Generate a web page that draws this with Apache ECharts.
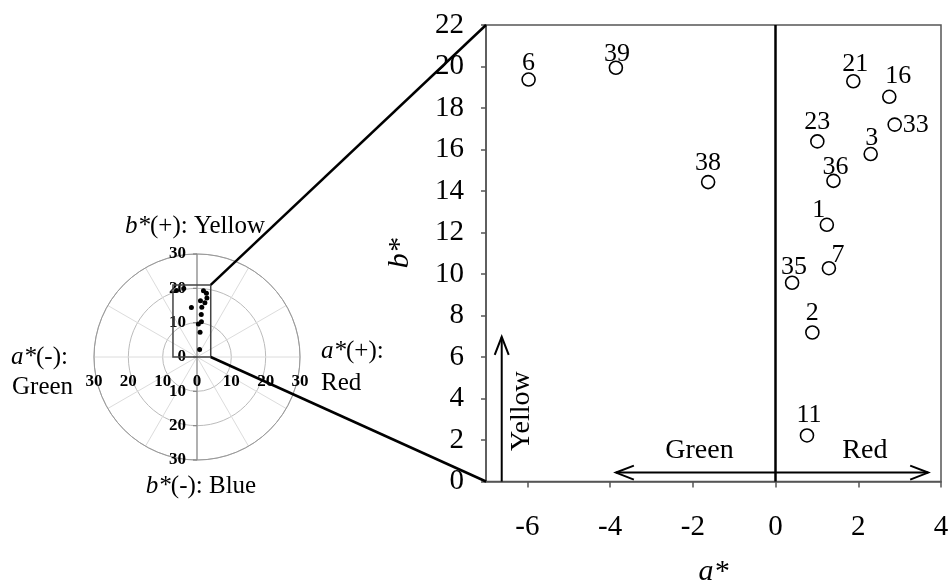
<!DOCTYPE html>
<html><head><meta charset="utf-8">
<script src="https://cdn.jsdelivr.net/npm/echarts@6/dist/echarts.min.js"></script>
<style>html,body{margin:0;padding:0;background:#fff}#c{width:948px;height:585px}</style>
</head><body><div id="c"></div>
<script>
// ---- data ----
const sampleIds = ['6','39','38','21','16','33','23','3','36','1','7','35','2','11'];
const aValues   = [-5.97,-3.86,-1.63,1.88,2.75,2.88,1.01,2.30,1.40,1.24,1.29,0.40,0.89,0.76];
const bValues   = [19.37,19.94,14.43,19.29,18.54,17.20,16.39,15.78,14.49,12.37,10.28,9.58,7.18,2.22];
const aTicks = [-6,-4,-2,0,2,4];
const bTicks = [0,2,4,6,8,10,12,14,16,18,20,22];
const aRange = [-7,4];
const bRange = [0,22];
const insetTicks = [-30,-20,-10,0,10,20,30];
const insetBox = [-7,4,0,21];          // a-min, a-max, b-min, b-max of the zoom box in the inset
const arrowSegs = [[0,0.43,-3.86,0.43],[0,0.43,3.69,0.43],[-6.62,0,-6.62,6.97]];
const arrowTexts = ['Green','Red','Yellow'];
const arrowTextPos = [[-1.84,1.47],[2.16,1.47],[-6.15,3.39]];

// ---- label placement (style only) ----
const labelOffsets = {
  '6':[0,-16],'39':[1,-14],'38':[0,-19],'21':[2,-17],'16':[9,-21],'33':[21,1],
  '23':[0,-19],'3':[1,-16],'36':[2,-14],'1':[-8,-15],'7':[9,-13],'35':[2,-16],
  '2':[0,-19],'11':[2,-20]
};
const SERIF = '"Liberation Serif","DejaVu Serif",serif';

const mainData = sampleIds.map((id,i)=>({
  value:[aValues[i], bValues[i]], name:id,
  label:{offset: labelOffsets[id]}
}));
const insetData = sampleIds.map((id,i)=>[aValues[i], bValues[i]]);

const chart = echarts.init(document.getElementById('c'), null, {renderer:'canvas'});

const option = {
  animation:false,
  backgroundColor:'#fff',
  grid:[
    {left:486, right:7, top:25, bottom:103.5, show:true, borderColor:'#555', borderWidth:1.5,
     containLabel:false, outerBoundsMode:'none'},
    {left:94, top:254, width:206, height:206, show:false, containLabel:false, outerBoundsMode:'none'}
  ],
  polar:{center:[197,357], radius:103},
  angleAxis:{type:'value', min:0, max:360, interval:30, startAngle:90,
    axisLine:{show:true, lineStyle:{color:'#999', width:1}},
    axisTick:{show:false}, axisLabel:{show:false},
    splitLine:{show:true, lineStyle:{color:'#dcdcdc', width:1}}},
  radiusAxis:{type:'value', min:0, max:30, interval:10,
    axisLine:{show:false}, axisTick:{show:false}, axisLabel:{show:false},
    splitLine:{show:true, lineStyle:{color:'#bbb', width:1}}},
  xAxis:[
    {gridIndex:0, type:'value', min:aRange[0], max:aRange[1],
     name:'a*', nameLocation:'middle', nameGap:76,
     nameTextStyle:{fontFamily:SERIF, fontSize:30, fontStyle:'italic', color:'#000'},
     axisLine:{show:true, onZero:false, lineStyle:{color:'#555', width:1.5}},
     axisTick:{show:true, customValues:aTicks, length:6, lineStyle:{color:'#555', width:1.5}},
     axisLabel:{customValues:aTicks, fontFamily:SERIF, fontSize:29, color:'#000', margin:31},
     splitLine:{show:false}},
    {gridIndex:1, type:'value', min:-30, max:30, interval:10,
     axisLine:{show:false}, axisTick:{show:false}, axisLabel:{show:false}, splitLine:{show:false}}
  ],
  yAxis:[
    {gridIndex:0, type:'value', min:bRange[0], max:bRange[1], interval:2,
     name:'b*', nameLocation:'middle', nameGap:71, nameRotate:90,
     nameTextStyle:{fontFamily:SERIF, fontSize:30, fontStyle:'italic', color:'#000'},
     axisLine:{show:true, onZero:false, lineStyle:{color:'#555', width:1.5}},
     axisTick:{show:true, length:5, lineStyle:{color:'#555', width:1.5}},
     axisLabel:{fontFamily:SERIF, fontSize:29, color:'#000', margin:22},
     splitLine:{show:false}},
    {gridIndex:1, type:'value', min:-30, max:30, interval:10,
     axisLine:{show:false}, axisTick:{show:false}, axisLabel:{show:false}, splitLine:{show:false}}
  ],
  series:[
    { // inset axes: vertical b axis through the centre, tick labels along both axes
      type:'custom', xAxisIndex:1, yAxisIndex:1, silent:true, z:2, clip:false,
      data:insetTicks.map(v=>[v]),
      renderItem:(params, api)=>{
        const v = api.value(0);
        const px = api.coord([v,0]);
        const py = api.coord([0,v]);
        const children = [
          {type:'text', x:px[0], y:px[1]+25, style:{text:String(Math.abs(v)), align:'center', verticalAlign:'middle',
            font:'bold 17px '+SERIF, fill:'#000'}},
          {type:'text', x:py[0]-11, y:py[1], style:{text:String(Math.abs(v)), align:'right', verticalAlign:'middle',
            font:'bold 17px '+SERIF, fill:'#000'}},
          {type:'line', shape:{x1:py[0]-4, y1:py[1], x2:py[0], y2:py[1]}, style:{stroke:'#888', lineWidth:1.2}}
        ];
        if (params.dataIndex === 0) {
          const t = api.coord([0, insetTicks[0]]);
          const b = api.coord([0, insetTicks[insetTicks.length-1]]);
          children.push({type:'line', shape:{x1:t[0], y1:t[1], x2:b[0], y2:b[1]}, style:{stroke:'#888', lineWidth:1.2}});
        }
        return {type:'group', children:children};
      }
    },
    { // zoom box in inset
      type:'custom', xAxisIndex:1, yAxisIndex:1, silent:true, z:3,
      data:[insetBox],
      renderItem:(params, api)=>{
        const p1 = api.coord([api.value(0), api.value(3)]);
        const p2 = api.coord([api.value(1), api.value(2)]);
        return {type:'rect', shape:{x:p1[0], y:p1[1], width:p2[0]-p1[0], height:p2[1]-p1[1]},
          style:{fill:'none', stroke:'#444', lineWidth:1.5}};
      }
    },
    { // inset dots
      type:'scatter', xAxisIndex:1, yAxisIndex:1, silent:true, z:4,
      symbol:'circle', symbolSize:5, itemStyle:{color:'#000', opacity:1},
      data:insetData
    },
    { // main scatter
      type:'scatter', xAxisIndex:0, yAxisIndex:0, z:5,
      symbol:'circle', symbolSize:13,
      itemStyle:{color:'#fff', borderColor:'#000', borderWidth:1.6, opacity:1},
      label:{show:true, position:'inside', formatter:p=>p.name,
        fontFamily:SERIF, fontSize:26, color:'#000', textBorderWidth:0, textBorderColor:'transparent'},
      data:mainData,
      markLine:{silent:true, symbol:'none', label:{show:false},
        lineStyle:{color:'#000', width:2.5, type:'solid'},
        data:[{xAxis:0}]}
    },
    { // arrows
      type:'custom', xAxisIndex:0, yAxisIndex:0, silent:true, z:4, clip:false,
      data:arrowSegs,
      renderItem:(params, api)=>{
        const s = api.coord([api.value(0), api.value(1)]);
        const e = api.coord([api.value(2), api.value(3)]);
        const dx = e[0]-s[0], dy = e[1]-s[1];
        const len = Math.sqrt(dx*dx+dy*dy);
        const ux = dx/len, uy = dy/len, nx = -uy, ny = ux;
        const L = 18, W = 7;
        return {type:'group', children:[
          {type:'line', shape:{x1:s[0], y1:s[1], x2:e[0], y2:e[1]}, style:{stroke:'#000', lineWidth:2}},
          {type:'polyline', shape:{points:[
            [e[0]-ux*L+nx*W, e[1]-uy*L+ny*W], [e[0], e[1]], [e[0]-ux*L-nx*W, e[1]-uy*L-ny*W]]},
            style:{stroke:'#000', lineWidth:2, fill:'none'}}
        ]};
      }
    },
    { // arrow captions
      type:'custom', xAxisIndex:0, yAxisIndex:0, silent:true, z:4, clip:false,
      data:arrowTextPos,
      renderItem:(params, api)=>{
        const p = api.coord([api.value(0), api.value(1)]);
        const t = arrowTexts[params.dataIndex];
        return {type:'text', x:p[0], y:p[1], rotation: t==='Yellow' ? Math.PI/2 : 0,
          style:{text:t, x:0, y:0, align:'center', verticalAlign:'middle',
            font:'28px '+SERIF, fill:'#000'}};
      }
    }
  ]
};
chart.setOption(option);

// connecting lines from inset box to main plot + inset captions
const pTopIn  = chart.convertToPixel({xAxisIndex:1, yAxisIndex:1}, [insetBox[1], insetBox[3]]);
const pBotIn  = chart.convertToPixel({xAxisIndex:1, yAxisIndex:1}, [insetBox[1], insetBox[2]]);
const pTopMain = chart.convertToPixel({xAxisIndex:0, yAxisIndex:0}, [aRange[0], bRange[1]]);
const pBotMain = chart.convertToPixel({xAxisIndex:0, yAxisIndex:0}, [aRange[0], bRange[0]]);
const rich = {i:{fontStyle:'italic', fontSize:25, fontFamily:SERIF, fill:'#000'}};
function cap(id, text, x, y, align){
  return {type:'text', id:id, x:x, y:y, z:10, silent:true,
    style:{text:text, rich:rich, align:align||'center', verticalAlign:'middle',
      fontSize:25, fontFamily:SERIF, fill:'#000'}};
}
chart.setOption({graphic:[
  {type:'line', id:'l1', z:10, silent:true, shape:{x1:pTopIn[0], y1:pTopIn[1], x2:pTopMain[0], y2:pTopMain[1]}, style:{stroke:'#000', lineWidth:2.5}},
  {type:'line', id:'l2', z:10, silent:true, shape:{x1:pBotIn[0], y1:pBotIn[1], x2:pBotMain[0], y2:pBotMain[1]}, style:{stroke:'#000', lineWidth:2.5}},
  cap('t1','{i|b*}(+): Yellow',195,226),
  cap('t2','{i|b*}(-): Blue',201,486),
  cap('t3','{i|a*}(-):',11,357,'left'),
  cap('t4','Green',12,387,'left'),
  cap('t5','{i|a*}(+):',321,351,'left'),
  cap('t6','Red',321,383,'left')
]});
</script>
</body></html>
